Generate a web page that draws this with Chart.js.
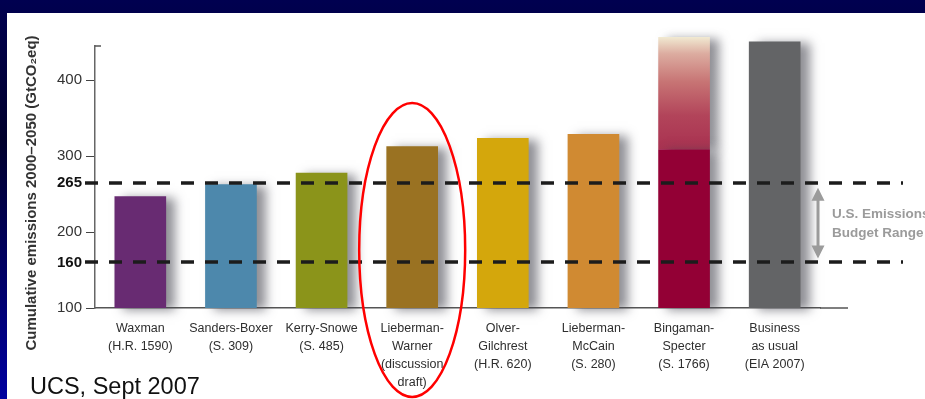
<!DOCTYPE html>
<html>
<head>
<meta charset="utf-8">
<script src="https://cdn.jsdelivr.net/npm/chart.js@4/dist/chart.umd.min.js"></script>
<style>
  html, body { margin: 0; padding: 0; }
  body {
    width: 925px; height: 399px; overflow: hidden; position: relative;
    background: linear-gradient(180deg, #000050 0%, #00002c 35%, #000070 75%, #0000a0 100%);
  }
  #sheet { position: absolute; left: 7px; top: 13px; right: 0; bottom: 0; background: #fff; }
  #wrap { position: absolute; left: 0; top: 0; width: 925px; height: 399px; }
  #credit {
    position: absolute; left: 30px; top: 373px; line-height: 1;
    font: 23.5px "Liberation Sans", Arial, sans-serif; color: #111;
  }
</style>
</head>
<body>
<div id="sheet"></div>
<div id="wrap"><canvas id="emissionsChart" width="925" height="399"></canvas></div>
<div id="credit">UCS, Sept 2007</div>
<script>
// cumulative emissions 2000-2050 (GtCO2eq) per bill
const bills = [
  ['Waxman', '(H.R. 1590)'],
  ['Sanders-Boxer', '(S. 309)'],
  ['Kerry-Snowe', '(S. 485)'],
  ['Lieberman-', 'Warner', '(discussion', 'draft)'],
  ['Olver-', 'Gilchrest', '(H.R. 620)'],
  ['Lieberman-', 'McCain', '(S. 280)'],
  ['Bingaman-', 'Specter', '(S. 1766)'],
  ['Business', 'as usual', '(EIA 2007)']
];
const emissions = [247, 263, 278, 313, 324, 329, 309, 451];
const bingamanHigh = 457;          // upper end of the Bingaman-Specter range
const rangeIndex = 6;
const highlightIndex = 3;          // circled bill
const barColors = ['#682b72', '#4d88ac', '#8b941a', '#9a7222', '#d4a70c', '#d08a32', '#930035', '#636466'];
const yTicks = [100, 160, 200, 265, 300, 400];
const budgetRange = [160, 265];
const yMin = 100, yMax = 445;

const FONT = '"Liberation Sans", Arial, sans-serif';
const NARROW = '"Liberation Sans Narrow", "Arial Narrow", "Liberation Sans", Arial, sans-serif';

const solidBars = emissions.map(v => [yMin, v]);
const rangeBars = emissions.map((v, i) => i === rangeIndex ? [v, bingamanHigh] : null);

const isBudget = c => !!(c && c.tick && budgetRange.includes(c.tick.value));

function rangeGradient(c) {
  const chart = c.chart;
  if (!chart.chartArea) return '#b04055';
  const y = chart.scales.y;
  const y0 = y.getPixelForValue(emissions[rangeIndex]);
  const y1 = y.getPixelForValue(bingamanHigh);
  const g = chart.ctx.createLinearGradient(0, y0, 0, y1);
  g.addColorStop(0, '#a93251');
  g.addColorStop(0.3, '#b2445a');
  g.addColorStop(0.6, '#c77474');
  g.addColorStop(0.85, '#dcaca0');
  g.addColorStop(1, '#f1ead2');
  return g;
}

const decorations = {
  id: 'decorations',
  beforeDatasetsDraw(chart) {
    const ctx = chart.ctx;
    ctx.save();
    ctx.shadowColor = 'rgba(70,70,80,0.6)';
    ctx.shadowBlur = 10;
    ctx.shadowOffsetX = 9;
    ctx.shadowOffsetY = 2;
  },
  afterDatasetsDraw(chart) {
    const ctx = chart.ctx;
    ctx.restore();
    const { left, right, top, bottom } = chart.chartArea;
    const y = chart.scales.y;
    const x = chart.scales.x;

    // axis tail and top hook
    ctx.save();
    ctx.strokeStyle = '#555';
    ctx.lineWidth = 1.5;
    ctx.beginPath();
    ctx.moveTo(right, bottom);
    ctx.lineTo(right + 28, bottom);
    ctx.moveTo(left, top);
    ctx.lineTo(left + 6, top);
    ctx.stroke();
    ctx.restore();

    // budget range dashed lines
    ctx.save();
    ctx.strokeStyle = '#1c1c1c';
    ctx.lineWidth = 3.5;
    ctx.setLineDash([13, 11]);
    budgetRange.forEach(v => {
      const py = Math.round(y.getPixelForValue(v));
      ctx.beginPath();
      ctx.moveTo(left - 10, py);
      ctx.lineTo(right + 83, py);
      ctx.stroke();
    });
    ctx.restore();

    // double arrow + label
    const ax = right - 2;
    const yTop = y.getPixelForValue(budgetRange[1]) + 5;
    const yBot = y.getPixelForValue(budgetRange[0]) - 4;
    ctx.save();
    ctx.fillStyle = '#9b9b9b';
    ctx.strokeStyle = '#9b9b9b';
    ctx.lineWidth = 3;
    ctx.beginPath();
    ctx.moveTo(ax, yTop + 8);
    ctx.lineTo(ax, yBot - 8);
    ctx.stroke();
    ctx.beginPath();
    ctx.moveTo(ax, yTop);
    ctx.lineTo(ax - 6.5, yTop + 13);
    ctx.lineTo(ax + 6.5, yTop + 13);
    ctx.closePath();
    ctx.moveTo(ax, yBot);
    ctx.lineTo(ax - 6.5, yBot - 13);
    ctx.lineTo(ax + 6.5, yBot - 13);
    ctx.closePath();
    ctx.fill();
    ctx.font = 'bold 13.5px ' + FONT;
    ctx.textBaseline = 'middle';
    ctx.textAlign = 'left';
    const mid = (yTop + yBot) / 2;
    ctx.fillText('U.S. Emissions', ax + 14, mid - 9);
    ctx.fillText('Budget Range', ax + 14, mid + 10);
    ctx.restore();

    // circle round the highlighted bill
    const cx = x.getPixelForValue(highlightIndex);
    ctx.save();
    ctx.strokeStyle = '#ff0000';
    ctx.lineWidth = 2.5;
    ctx.beginPath();
    ctx.ellipse(cx, (top + bottom) / 2 + 73, 53, 147, 0, 0, Math.PI * 2);
    ctx.stroke();
    ctx.restore();

    // y axis title
    ctx.save();
    ctx.translate(32, 193);
    ctx.rotate(-Math.PI / 2);
    ctx.font = 'bold 15px ' + FONT;
    ctx.fillStyle = '#333';
    ctx.textAlign = 'center';
    ctx.textBaseline = 'middle';
    ctx.fillText('Cumulative emissions 2000\u20132050 (GtCO\u2082eq)', 0, 0);
    ctx.restore();
  }
};

new Chart(document.getElementById('emissionsChart'), {
  type: 'bar',
  data: {
    labels: bills,
    datasets: [
      {
        data: solidBars,
        backgroundColor: barColors,
        borderWidth: 0,
        clip: false,
        categoryPercentage: 1,
        barPercentage: 0.57
      },
      {
        data: rangeBars,
        backgroundColor: rangeGradient,
        borderWidth: 0,
        clip: false,
        categoryPercentage: 1,
        barPercentage: 0.57
      }
    ]
  },
  options: {
    responsive: false,
    animation: false,
    devicePixelRatio: 1,
    layout: { padding: { top: 46, right: 105, bottom: 0, left: 0 } },
    plugins: { legend: { display: false }, tooltip: { enabled: false } },
    scales: {
      x: {
        stacked: true,
        grid: { display: false },
        border: { color: '#555', width: 1.5 },
        afterFit(scale) { scale.height = 91; },
        ticks: {
          autoSkip: false,
          maxRotation: 0,
          padding: 4,
          color: '#2e2e2e',
          font: { family: NARROW, size: 12.5, lineHeight: 1.42 }
        }
      },
      y: {
        min: yMin,
        max: yMax,
        afterBuildTicks(scale) { scale.ticks = yTicks.map(v => ({ value: v })); },
        afterFit(scale) { scale.width = 95; },
        grid: {
          drawOnChartArea: false,
          tickLength: 9,
          tickColor: c => isBudget(c) ? 'rgba(0,0,0,0)' : '#444'
        },
        border: { color: '#666', width: 1.5 },
        ticks: {
          padding: 4,
          color: c => isBudget(c) ? '#111' : '#333',
          font: c => ({
            family: FONT,
            size: 15,
            weight: isBudget(c) ? 'bold' : 'normal'
          })
        }
      }
    }
  },
  plugins: [decorations]
});
</script>
</body>
</html>
